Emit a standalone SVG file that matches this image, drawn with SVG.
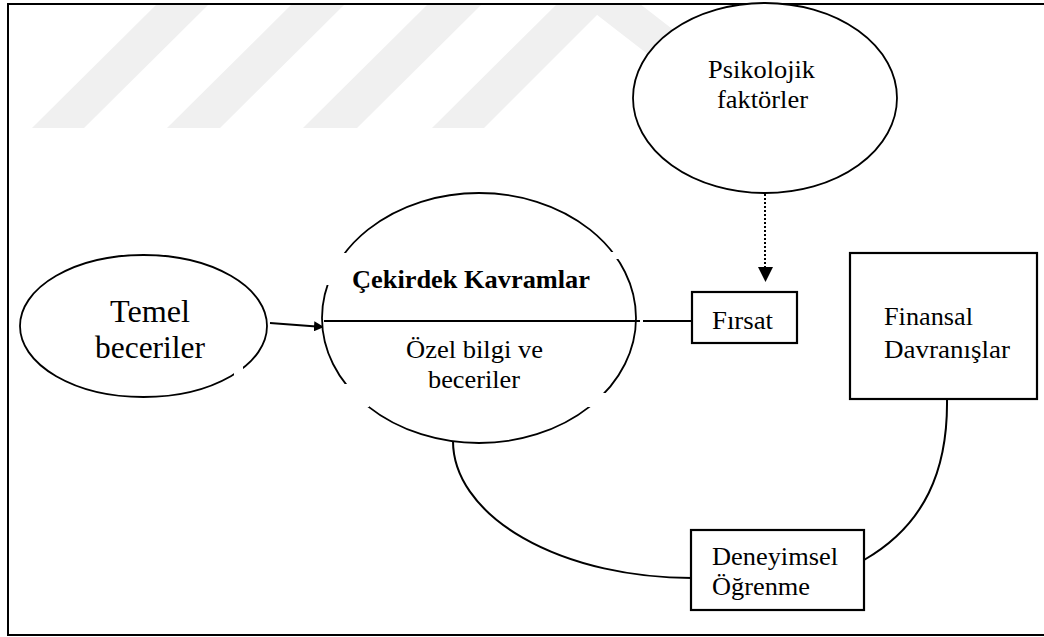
<svg xmlns="http://www.w3.org/2000/svg" width="1044" height="637" viewBox="0 0 1044 637">
<defs>
<style>
.t{font-family:"Liberation Serif","Times New Roman",serif;fill:#000;font-size:26px}
.n{fill:#fff;stroke:#000;stroke-width:1.8}
.b{fill:#fff;stroke:#000;stroke-width:2.2}
.c{fill:none;stroke:#000;stroke-width:2}
.wm{fill:#f0f0f0}
.gap{fill:#fff}
</style>
<marker id="ah" markerWidth="10" markerHeight="10" refX="9" refY="5" orient="auto" markerUnits="userSpaceOnUse">
<path d="M0,0 L10,5 L0,10 Z" fill="#000"/>
</marker>
</defs>
<rect x="0" y="0" width="1044" height="637" fill="#fff"/>
<g id="watermark">
<polygon class="wm" points="32,128 84,128 209,4 157,4"/>
<polygon class="wm" points="167,128 220,128 345,4 292,4"/>
<polygon class="wm" points="303,128 357,128 482,4 428,4"/>
<polygon class="wm" points="432,128 484,128 608,4 557,4"/>
<polygon class="wm" points="583,4 640,4 800,128 743,128"/>
</g>
<rect x="8" y="4" width="1040" height="631" fill="none" stroke="#000" stroke-width="2"/>
<g id="connectors">
<line class="c" x1="270" y1="323" x2="323" y2="327" marker-end="url(#ah)"/>
<line x1="765" y1="194" x2="765" y2="268" stroke="#000" stroke-width="2" stroke-dasharray="2 2"/>
<path d="M758,267 L773,267 L765.5,282 Z" fill="#000"/>
<path class="c" d="M453,441 A239,137 0 0 0 692,578"/>
<path class="c" d="M947,399 C948,470 925,525 864,560"/>
</g>
<g id="psikolojik">
<ellipse class="n" cx="765" cy="98" rx="132" ry="95"/>
<text class="t" x="708" y="78" textLength="107" lengthAdjust="spacingAndGlyphs">Psikolojik</text>
<text class="t" x="717" y="108" textLength="91" lengthAdjust="spacingAndGlyphs">faktörler</text>
</g>
<g id="temel">
<ellipse class="n" cx="143.5" cy="326" rx="123.5" ry="71"/>
<rect class="gap" x="234" y="366" width="9" height="11"/>
<text class="t" style="font-size:31px" x="110" y="322" textLength="80" lengthAdjust="spacingAndGlyphs">Temel</text>
<text class="t" style="font-size:31px" x="95" y="358" textLength="110" lengthAdjust="spacingAndGlyphs">beceriler</text>
</g>
<g id="cekirdek">
<ellipse class="n" cx="479" cy="318" rx="157" ry="125"/>
<line x1="324" y1="321" x2="692" y2="321" stroke="#000" stroke-width="1.8"/>
<rect class="gap" x="318" y="253" width="30" height="32"/>
<rect class="gap" x="609" y="252" width="12" height="7"/>
<rect class="gap" x="343" y="384" width="26" height="23"/>
<rect class="gap" x="585" y="393" width="22" height="14"/>
<rect class="gap" x="640" y="318" width="3" height="6"/>
<text class="t" font-weight="bold" x="352" y="288" textLength="238" lengthAdjust="spacingAndGlyphs">Çekirdek Kavramlar</text>
<text class="t" x="406" y="358" textLength="137" lengthAdjust="spacingAndGlyphs">Özel bilgi ve</text>
<text class="t" x="428" y="388" textLength="92" lengthAdjust="spacingAndGlyphs">beceriler</text>
</g>
<g id="firsat">
<rect class="b" x="692" y="292" width="105" height="51"/>
<text class="t" x="712" y="329" textLength="61" lengthAdjust="spacingAndGlyphs">Fırsat</text>
</g>
<g id="finansal">
<rect class="b" x="850" y="253" width="187" height="146"/>
<text class="t" x="884" y="325" textLength="89" lengthAdjust="spacingAndGlyphs">Finansal</text>
<text class="t" x="884" y="358" textLength="126" lengthAdjust="spacingAndGlyphs">Davranışlar</text>
</g>
<g id="deneyimsel">
<rect class="b" x="691" y="530" width="173" height="80"/>
<text class="t" x="712" y="565" textLength="126" lengthAdjust="spacingAndGlyphs">Deneyimsel</text>
<text class="t" x="712" y="595" textLength="98" lengthAdjust="spacingAndGlyphs">Öğrenme</text>
</g>
</svg>
